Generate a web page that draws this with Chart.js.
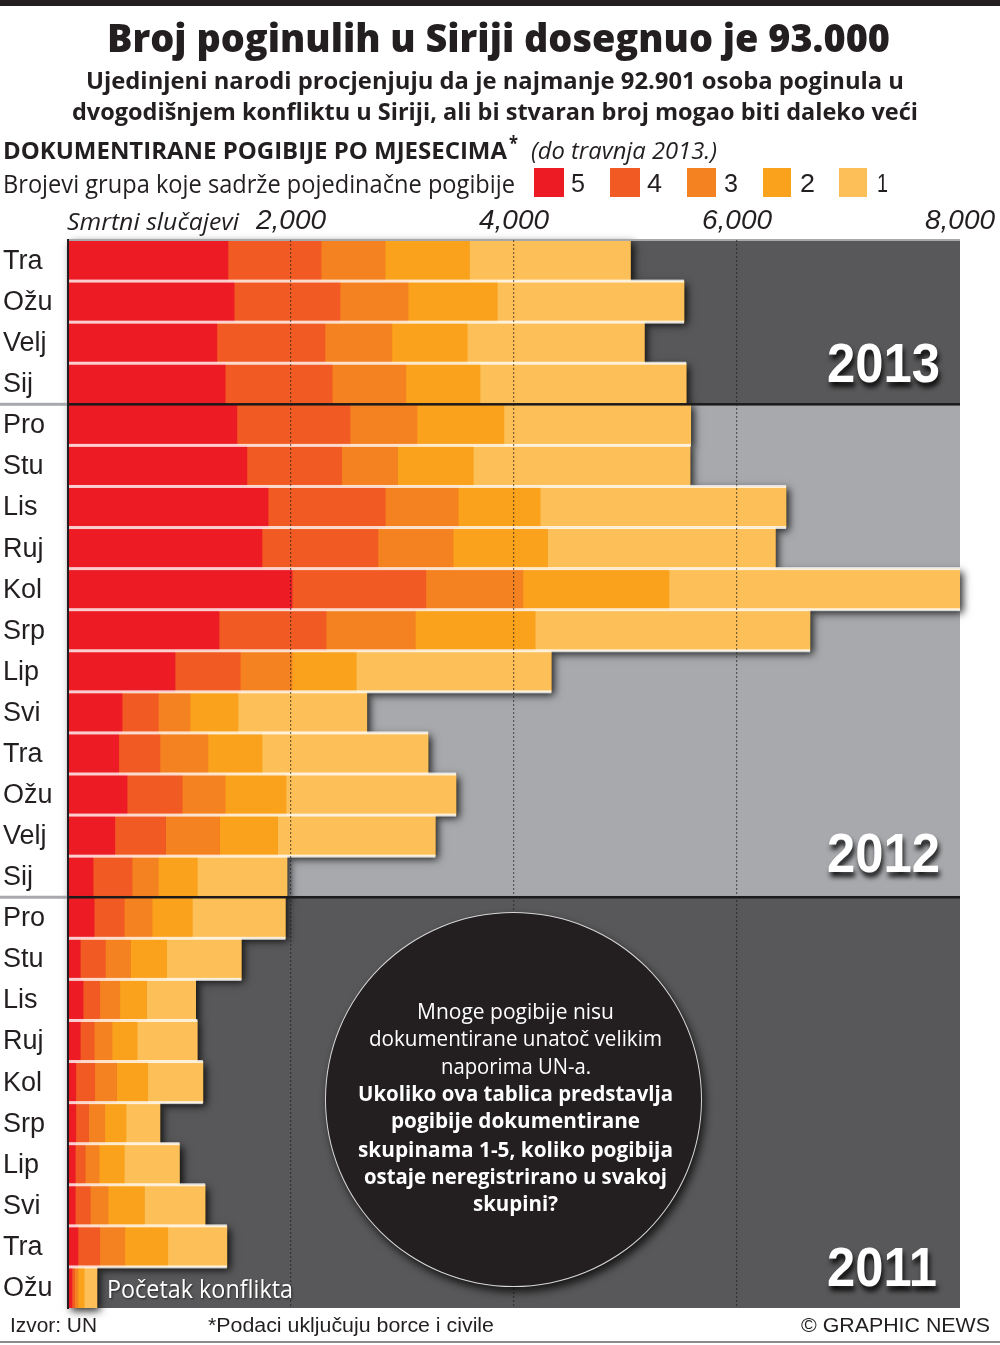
<!DOCTYPE html>
<html><head><meta charset="utf-8">
<script src="https://cdn.jsdelivr.net/npm/chart.js@4"></script>
<style>
html,body{margin:0;padding:0;background:#fff;overflow:hidden}
#wrap{position:relative;width:1000px;height:1345px;overflow:hidden}
#c{position:absolute;left:0;top:0}
.t{position:absolute;white-space:nowrap;transform-origin:left center;line-height:1;color:#231f20}
.r{position:absolute}
</style></head><body>
<div id="wrap"><canvas id="c" width="1000" height="1345"></canvas></div>
<script>
const categories=['Tra','Ožu','Velj','Sij','Pro','Stu','Lis','Ruj','Kol','Srp','Lip','Svi','Tra','Ožu','Velj','Sij','Pro','Stu','Lis','Ruj','Kol','Srp','Lip','Svi','Tra','Ožu'];
const group5=[1435,1490,1335,1410,1515,1605,1795,1740,2010,1355,960,485,455,530,420,225,235,110,135,110,70,70,65,65,90,35];
const group4=[835,950,970,960,1015,850,1050,1040,1200,960,585,325,370,495,455,350,270,225,150,125,170,115,90,135,195,25];
const group3=[575,610,600,660,600,500,655,675,870,800,465,285,430,385,485,235,250,225,180,160,195,145,125,160,225,30];
const group2=[755,800,675,665,780,680,735,845,1310,1075,575,430,485,545,520,350,360,325,240,225,280,190,225,325,385,55];
const group1=[1445,1675,1590,1850,1675,1945,2205,2045,2610,2465,1750,1155,1490,1525,1415,805,835,670,440,540,495,305,495,545,530,115];
const groupNames=['5','4','3','2','1'];
const groupColors=['#ed1c24','#f15a22','#f58220','#faa21b','#fdbf57'];
const xTickLabels=['','2,000','4,000','6,000','8,000'];
const yearNames=['2013','2012','2011'];
const yearRows=[4,12,10];
const yearColors=['#58585a','#a7a9ac','#58585a'];
const totals=categories.map((_,i)=>group5[i]+group4[i]+group3[i]+group2[i]+group1[i]);

function rowEdge(s,i){return s.top+(s.bottom-s.top)*i/categories.length}
const decor={id:'decor',
 beforeDatasetsDraw(ch){
  const g=ch.ctx,x=ch.scales.x,y=ch.scales.y;let r=0;
  g.save();
  yearRows.forEach((n,k)=>{g.fillStyle=yearColors[k];
    g.fillRect(x.left,rowEdge(y,r),x.right-x.left,rowEdge(y,r+n)-rowEdge(y,r));r+=n});
  g.shadowColor='rgba(0,0,0,.85)';g.shadowBlur=8;g.shadowOffsetX=3;g.shadowOffsetY=3;g.fillStyle='#000';
  totals.forEach((t,i)=>{g.fillRect(x.left,rowEdge(y,i),x.getPixelForValue(t)-x.left,rowEdge(y,i+1)-rowEdge(y,i))});
  g.restore();
 },
 afterDatasetsDraw(ch){
  const g=ch.ctx,x=ch.scales.x,y=ch.scales.y;
  const breaks=[];let r=0;yearRows.forEach(n=>{r+=n;breaks.push(r)});
  g.save();
  g.fillStyle='rgba(255,255,255,.78)';
  for(let i=1;i<categories.length;i++){
    if(breaks.includes(i))continue;
    const m=Math.max(totals[i-1],totals[i]);
    g.fillRect(x.left+1,rowEdge(y,i)-1.5,x.getPixelForValue(m)-x.left-1,3);
  }
  g.fillStyle='#a7a9ac';g.fillRect(x.left,y.top-1,x.right-x.left,2);
  breaks.slice(0,-1).forEach(b=>{const p=rowEdge(y,b);
    g.fillStyle='#a7a9ac';g.fillRect(0,p-1.5,x.left,3);
    g.fillStyle='#1c1a1b';g.fillRect(x.left,p-1.25,x.right-x.left,2.5)});
  g.restore();
 }};

new Chart(document.getElementById('c'),{
 type:'bar',
 data:{labels:categories,datasets:[group5,group4,group3,group2,group1].map((d,i)=>({label:groupNames[i],data:d,backgroundColor:groupColors[i],borderWidth:0,barPercentage:1,categoryPercentage:1}))},
 options:{indexAxis:'y',responsive:false,animation:false,events:[],
  layout:{padding:{left:3,top:0,right:40,bottom:37}},
  plugins:{legend:{display:false},tooltip:{enabled:false},title:{display:false}},
  scales:{
   x:{position:'top',stacked:true,min:0,max:8000,
     afterFit(s){s.height=240;s.paddingLeft=0;s.paddingRight=0},
     ticks:{stepSize:2000,padding:2,color:'#231f20',maxRotation:0,font:{family:'Liberation Sans',style:'italic',size:28},
       callback:(v)=>xTickLabels[v/2000]},
     grid:{z:1,drawTicks:false,lineWidth:1.2,color:c=>(c.tick.value>0&&c.tick.value<8000)?'rgba(30,28,28,.6)':'rgba(0,0,0,0)'},
     border:{display:false,dash:[2,2]}},
   y:{stacked:true,
     afterFit(s){s.width=65},
     ticks:{crossAlign:'far',padding:0,labelOffset:1,autoSkip:false,color:'#231f20',font:{family:'Liberation Sans',size:27}},
     grid:{display:false},
     border:{display:true,color:'#231f20',width:2,z:2}}
  }},
 plugins:[decor]});
</script>
<script>
const wrap=document.getElementById('wrap');
// [text,x0,x1,yCenter,font,colour,extraShadow]
const OS='"Open Sans"',LS='"Liberation Sans"';
const texts=[
 ['Broj poginulih u Siriji dosegnuo je 93.000',107,890,36,'800 39px '+OS],
 ['Ujedinjeni narodi procjenjuju da je najmanje 92.901 osoba poginula u',86,904,80,'700 24px '+OS],
 ['dvogodišnjem konfliktu u Siriji, ali bi stvaran broj mogao biti daleko veći',72,918,111,'700 24px '+OS],
 ['DOKUMENTIRANE POGIBIJE PO MJESECIMA',3,507,150,'700 24px '+OS],
 ['*',509,518,143,'700 20px '+OS],
 ['(do travnja 2013.)',531,717,150,'italic 400 24px '+OS],
 ['Brojevi grupa koje sadrže pojedinačne pogibije',3,515,183,'400 25px '+OS],
 ['Smrtni slučajevi',67,239,221,'italic 400 24px '+OS],
 ['5',571,585,183,'400 26px '+LS],['4',647,662,183,'400 26px '+LS],['3',724,738,183,'400 26px '+LS],['2',800,815,183,'400 26px '+LS],['1',877,888,183,'400 26px '+LS],
 ['Izvor: UN',10,97,1325,'400 20px '+LS],
 ['*Podaci uključuju borce i civile',208,494,1325,'400 20px '+LS],
 ['© GRAPHIC NEWS',801,990,1325,'400 20px '+LS],
];
const onDark=[
 ['Početak konflikta',107,293,1288,'400 25px '+OS,'#fff','1px 1px 2px rgba(0,0,0,.6)'],
 ['2013',827,940,363,'700 55px '+LS,'#fff','2px 5px 6px rgba(0,0,0,.85)'],
 ['2012',827,940,853,'700 55px '+LS,'#fff','2px 5px 6px rgba(0,0,0,.85)'],
 ['2011',827,937,1267,'700 55px '+LS,'#fff','2px 5px 6px rgba(0,0,0,.85)'],
];
const circleText=[
 ['Mnoge pogibije nisu',417,614,1010,'400 22px '+OS,'#fff'],
 ['dokumentirane unatoč velikim',369,662,1037,'400 22px '+OS,'#fff'],
 ['naporima UN-a.',441,591,1065,'400 22px '+OS,'#fff'],
 ['Ukoliko ova tablica predstavlja',358,673,1092,'700 22px '+OS,'#fff'],
 ['pogibije dokumentirane',391,640,1119,'700 22px '+OS,'#fff'],
 ['skupinama 1-5, koliko pogibija',358,673,1148,'700 22px '+OS,'#fff'],
 ['ostaje neregistrirano u svakoj',364,667,1175,'700 22px '+OS,'#fff'],
 ['skupini?',473,558,1202,'700 22px '+OS,'#fff'],
];
function box(x,y,w,h,css){const d=document.createElement('div');d.className='r';
 d.style.cssText=`left:${x}px;top:${y}px;width:${w}px;height:${h}px;${css}`;wrap.appendChild(d);return d}
function put(a){const [s,x0,x1,y,f,col,sh]=a;const e=document.createElement('div');e.className='t';e.textContent=s;
 e.style.font=f;e.style.lineHeight='1';if(col)e.style.color=col;if(sh)e.style.textShadow=sh;
 e.style.left=x0+'px';wrap.appendChild(e);
 const w=e.getBoundingClientRect().width,h=e.getBoundingClientRect().height;
 e.style.top=(y-h/2)+'px';e.style.transform=`scaleX(${(x1-x0)/w})`;}
box(0,0,1000,6,'background:#231f20');
box(0,1341,1000,2,'background:#8a8a8c');
[[534,564],[610,640],[687,716],[763,791],[839,867]].forEach((p,i)=>box(p[0],168,p[1]-p[0],29,'background:'+groupColors[i]));
box(324.5,912,377.5,375,'box-sizing:border-box;border-radius:50%;background:#231f20;border:1.5px solid #d8d8d8;box-shadow:3px 5px 9px rgba(0,0,0,.75)');
texts.concat(onDark,circleText).forEach(put);
</script>
</body></html>
